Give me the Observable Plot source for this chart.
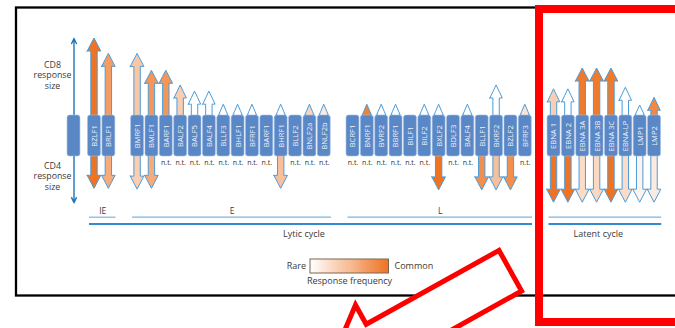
<!DOCTYPE html>
<html><head><meta charset="utf-8">
<script src="https://cdn.jsdelivr.net/npm/d3@7"></script>
<script src="https://cdn.jsdelivr.net/npm/@observablehq/plot@0.6"></script>
<style>
body{margin:0;background:#fff;}
#wrap{position:relative;width:675px;height:328px;overflow:hidden;background:#fff;}
#wrap svg{position:absolute;left:0;top:0;}
</style></head><body><div id="wrap"></div>
<script>
// ---------- data ----------
const proteins = ["BZLF1","BRLF1",
  "BMRF1","BMLF1","BARF1","BALF2","BALF5","BALF4","BLLF3","BHLF1","BFRF1","BARF1","BHRF1","BLLF2","BNLF2a","BNLF2b",
  "BCRF1","BNRF1","BVRF2","BBRF1","BILF1","BILF2","BXLF2","BDLF3","BALF4","BLLF1","BKRF2","BZLF2","BFRF3",
  "EBNA 1","EBNA 2","EBNA 3A","EBNA 3B","EBNA 3C","EBNA-LP","LMP1","LMP2"];
const phaseNames = ["IE","E","L","Latent"];
const phaseSizes = [2,14,13,8];
const cycleNames = ["Lytic cycle","Latent cycle"];
// CD8 (up) response size and frequency (0 rare .. 1 common); null = no response
const cd8Size = [10,8, 8,5.8,5.8,3.9,3.1,3.1,1.4,1.4,1.4,null,1.4,null,1.4,1.4,
  null,1.4,1.4,1.4,null,1.4,1.4,null,1.4,null,3.9,null,1.4,
  3.4,3.4,6.1,6.1,6.1,3.6,1.3,2.3];
const cd8Freq = [1,0.7, 0.4,0.75,0.75,0.35,0,0,0,0,0,null,0,null,0.3,0.15,
  null,0.9,0,0,null,0,0,null,0,null,0,null,0.2,
  0.35,0,0.95,0.95,0.95,0,0,0.85];
// CD4 (down) response size and frequency; null = not tested (n.t.)
const cd4Size = [4.2,4.2, 4.3,4.2,null,null,null,null,null,null,null,null,4.2,null,null,null,
  null,null,null,null,null,null,4.4,null,null,4.4,4.4,4.4,null,
  6,6,6,6,6,6,6,6];
const cd4Freq = [1,0.6, 0.35,0.6,null,null,null,null,null,null,null,null,0.45,null,null,null,
  null,null,null,null,null,null,1,null,null,0.8,0.45,0.8,null,
  1,1,0.25,0.28,1,0.25,0.08,0.15];
const axisLabels = [["CD8","response","size"],["CD4","response","size"]];
const freqLabels = ["Rare","Common"];
const freqTitle = "Response frequency";
const ntLabel = "n.t.";

// ---------- layout ----------
const W = 675, H = 328;
const PX_SLOT = 14.36, X0 = 94;      // pixel of slot 0
const PX_UNIT = 7.7, Y0 = 135.5;     // pixel of y = 0
const B = 20.5 / PX_UNIT;            // half box height (y units)
const py = p => (Y0 - p) / PX_UNIT;
const px = p => (p - X0) / PX_SLOT;
const FONT = "'Open Sans', sans-serif";
const BLUE_OUT = "#4c9cd9";

const slot = [], phaseOf = [];
let s = 0;
phaseSizes.forEach((n, g) => { for (let j = 0; j < n; j++) { slot.push(s++); phaseOf.push(g); } s++; });

const rows = proteins.map((name, i) => ({name, x: slot[i], phase: phaseOf[i],
  cd8: cd8Size[i], f8: cd8Freq[i], cd4: cd4Size[i], f4: cd4Freq[i]}));

function arrowPts(id, x, size, freq, dir) {
  const lenPx = size * PX_UNIT;
  const hwPx = lenPx <= 12 ? 4.6 : (lenPx <= 32 ? 6.2 : 6.8);
  const hlPx = Math.min(13, lenPx);
  const hw = hwPx / PX_SLOT, sw = 3.2 / PX_SLOT, hl = hlPx / PX_UNIT;
  const tip = B + size, hb = tip - hl;
  const mid = hb + hl * (hw - sw) / hw;
  return [[-hw,hb,hb],[-sw,hb,mid],[-sw,0,mid],[0,0,tip],[sw,0,mid],[sw,hb,mid],[hw,hb,hb]]
    .map(([dx, a, b]) => ({id, x: x + dx, y1: dir * a, y2: dir * b, freq}));
}
const arrows = [];
rows.forEach((d, i) => {
  if (d.cd8 != null) arrows.push(...arrowPts("u" + i, d.x, d.cd8, d.f8, 1));
  if (d.cd4 != null) arrows.push(...arrowPts("d" + i, d.x, d.cd4, d.f4, -1));
});

const spans = phaseNames.map((name, g) => {
  const xs = rows.filter(d => d.phase === g).map(d => d.x);
  return {name, x1: d3.min(xs) - 0.35, x2: d3.max(xs) + 0.5};
});
const cycles = [
  {name: cycleNames[0], x1: spans[0].x1, x2: spans[2].x2},
  {name: cycleNames[1], x1: spans[3].x1, x2: spans[3].x2}
];

const legX = px(73.5);
const maxUp = B + d3.max(cd8Size), maxDown = -(B + d3.max(cd4Size));
const L0 = px(310), L1 = px(388.5), LY1 = py(259), LY2 = py(273);
const ramp = d3.range(0, 1, 0.0125);
// axis label lines, one text per line
const axisLines = axisLabels.flatMap((lines, k) => lines.map((t, j) => ({t, y: py((k === 0 ? 64.5 : 165.5) + j * 10.5)})));

const chart = Plot.plot({
  width: W, height: H,
  marginTop: 0, marginRight: 0, marginBottom: 0, marginLeft: 0,
  x: {domain: [px(0), px(W)], axis: null},
  y: {domain: [py(H), py(0)], axis: null},
  color: {type: "linear", domain: [0, 1], range: ["#ffffff", "#ee7322"], interpolate: "rgb"},
  style: {fontFamily: FONT, background: "transparent", overflow: "visible"},
  marks: [
    // axis arrows of the legend column
    Plot.arrow([maxUp, maxDown], {x1: legX, x2: legX, y1: 0, y2: d => d, stroke: "#1c76bd", strokeWidth: 1.4, headLength: 6, headAngle: 50}),
    Plot.text(axisLines, {x: px(52), y: "y", text: "t", fontSize: 8.8, fill: "#3a3a3a"}),
    // response arrows
    Plot.area(arrows, {x1: "x", y1: "y1", y2: "y2", z: "id", fill: "freq", stroke: BLUE_OUT, strokeWidth: 1, strokeLinejoin: "miter"}),
    // protein boxes
    Plot.rect([{x: legX}, ...rows], {x1: d => d.x - 0.45, x2: d => d.x + 0.45, y1: -B, y2: B, rx: 2.5,
      fill: "#5a87c5", stroke: "#a2c0e4", strokeWidth: 0.6}),
    Plot.text(rows, {x: "x", y: 0, text: "name", rotate: -90, fontSize: 7.6, fill: "#eef3fb"}),
    Plot.text(rows.filter(d => d.cd4 == null), {x: "x", y: py(161.8), text: () => ntLabel, fontSize: 7, fill: "#333"}),
    // phase brackets
    Plot.ruleY(spans, {y: py(216.7), x1: "x1", x2: "x2", stroke: "#7ab6e3", strokeWidth: 1.2}),
    Plot.text(spans.filter(d => d.name !== "Latent"), {x: d => (d.x1 + d.x2) / 2, y: py(210.7), text: "name", fontSize: 8.5, fill: "#3a3a3a"}),
    Plot.ruleY(cycles, {y: py(223.6), x1: "x1", x2: "x2", stroke: "#2f8bd2", strokeWidth: 2}),
    Plot.text(cycles, {x: d => (d.x1 + d.x2) / 2, dx: -7, y: py(234), text: "name", fontSize: 9, fill: "#3a3a3a"}),
    // frequency legend
    Plot.rect(ramp, {x1: d => L0 + d * (L1 - L0), x2: d => Math.min(L1, L0 + (d + 0.02) * (L1 - L0)), y1: LY1, y2: LY2, fill: d => d}),
    Plot.rect([0], {x1: L0, x2: L1, y1: LY1, y2: LY2, fill: "none", stroke: "#7d6650", strokeWidth: 1}),
    Plot.text([freqLabels[0]], {x: px(305.5), y: py(266), text: d => d, textAnchor: "end", fontSize: 9, fill: "#3a3a3a"}),
    Plot.text([freqLabels[1]], {x: px(394), y: py(266), text: d => d, textAnchor: "start", fontSize: 9, fill: "#3a3a3a"}),
    Plot.text([freqTitle], {x: px(349), y: py(281), text: d => d, fontSize: 9, fill: "#3a3a3a"})
  ]
});

const wrap = document.getElementById("wrap");
// frame behind the chart
const ns = "http://www.w3.org/2000/svg";
const under = document.createElementNS(ns, "svg");
under.setAttribute("width", W); under.setAttribute("height", H);
under.innerHTML = `<rect x="16" y="7.5" width="720" height="288" fill="none" stroke="#000" stroke-width="2.3"/>`;
wrap.appendChild(under);
wrap.appendChild(chart);
// screenshot annotation on top
const over = document.createElementNS(ns, "svg");
over.setAttribute("width", W); over.setAttribute("height", H);
over.innerHTML = `<rect x="539" y="9" width="220" height="313" fill="none" stroke="#ff0000" stroke-width="8"/>
<polygon points="499,250.4 366.2,324.3 355.5,305 326.8,372.7 399.5,384.1 388.8,364.9 521.6,291" fill="#fff" stroke="#ff0000" stroke-width="5" stroke-linejoin="miter"/>`;
wrap.appendChild(over);
</script></body></html>
